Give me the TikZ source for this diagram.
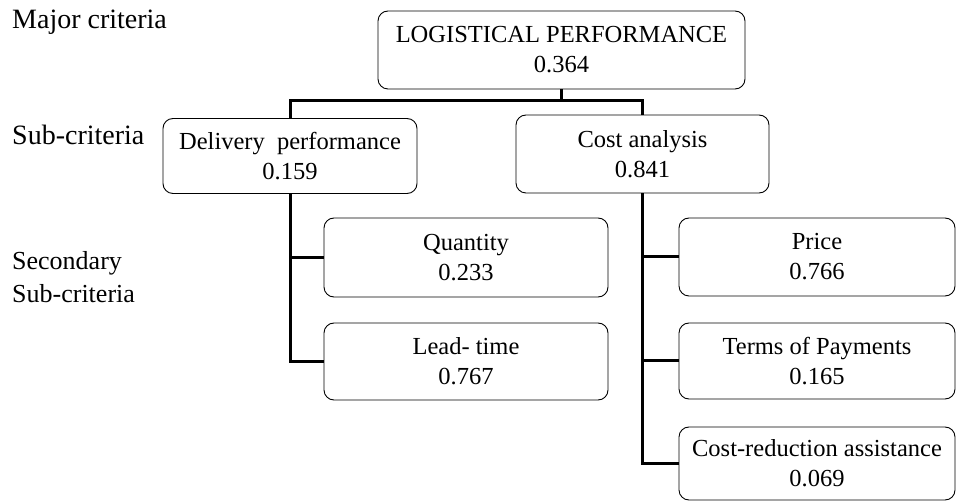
\documentclass[tikz,border=0pt]{standalone}
\usepackage{fontspec}
\setmainfont{Liberation Serif}
\usepackage{tikz}
\usetikzlibrary{positioning}
\tikzset{
    box/.style={draw, line width=0.9pt, rounded corners=10pt, inner sep=0pt, align=center,
        font=\fontsize{24.5}{30}\selectfont},
    link/.style={line width=3pt},
    lbl/.style={anchor=base west, inner sep=0pt, align=left}
}

\begin{document}
\begin{tikzpicture}[x=1pt,y=-1pt]
        \useasboundingbox (0,0) rectangle (956,502);
        \node[lbl, font=\fontsize{28}{33}\selectfont] (major) at (12,29) {Major criteria};
        \node[lbl, font=\fontsize{28}{33}\selectfont] (sub) at (12,145) {Sub-criteria};
        \node[lbl, font=\fontsize{26}{33}\selectfont] (second) at (12,303) {Secondary\\Sub-criteria};
        \node[box, minimum width=367pt, minimum height=78pt] (top) at (561.5,50) {LOGISTICAL PERFORMANCE\\0.364};
        \node[box, minimum width=254pt, minimum height=75pt] (deliv) at (290,156) {Delivery\ \ performance\\0.159};
        \node[box, minimum width=253pt, minimum height=78pt] (cost) at (642.5,154) {Cost analysis\\0.841};
        \node[box, minimum width=284pt, minimum height=79pt] (qty) at (466,257.5) {Quantity\\0.233};
        \node[box, minimum width=284pt, minimum height=77pt] (lead) at (466,361.5) {Lead- time\\0.767};
        \node[box, minimum width=276pt, minimum height=78pt] (price) at (817,257) {Price\\0.766};
        \node[box, minimum width=276pt, minimum height=76pt] (terms) at (817,361) {Terms of Payments\\0.165};
        \node[box, minimum width=276pt, minimum height=73pt] (costred) at (817,463.5) {Cost-reduction assistance\\0.069};
        \draw[link] (top.south) -- ++(0,11) coordinate (bus) -| (deliv.north);
        \draw[link] (bus) -| (cost.north);
        \draw[link] (deliv.south) |- (qty.west);
        \draw[link] (deliv.south) |- (lead.west);
        \draw[link] (cost.south) |- (price.west);
        \draw[link] (cost.south) |- (terms.west);
        \draw[link] (cost.south) |- (costred.west);
    \end{tikzpicture}
\end{document}
